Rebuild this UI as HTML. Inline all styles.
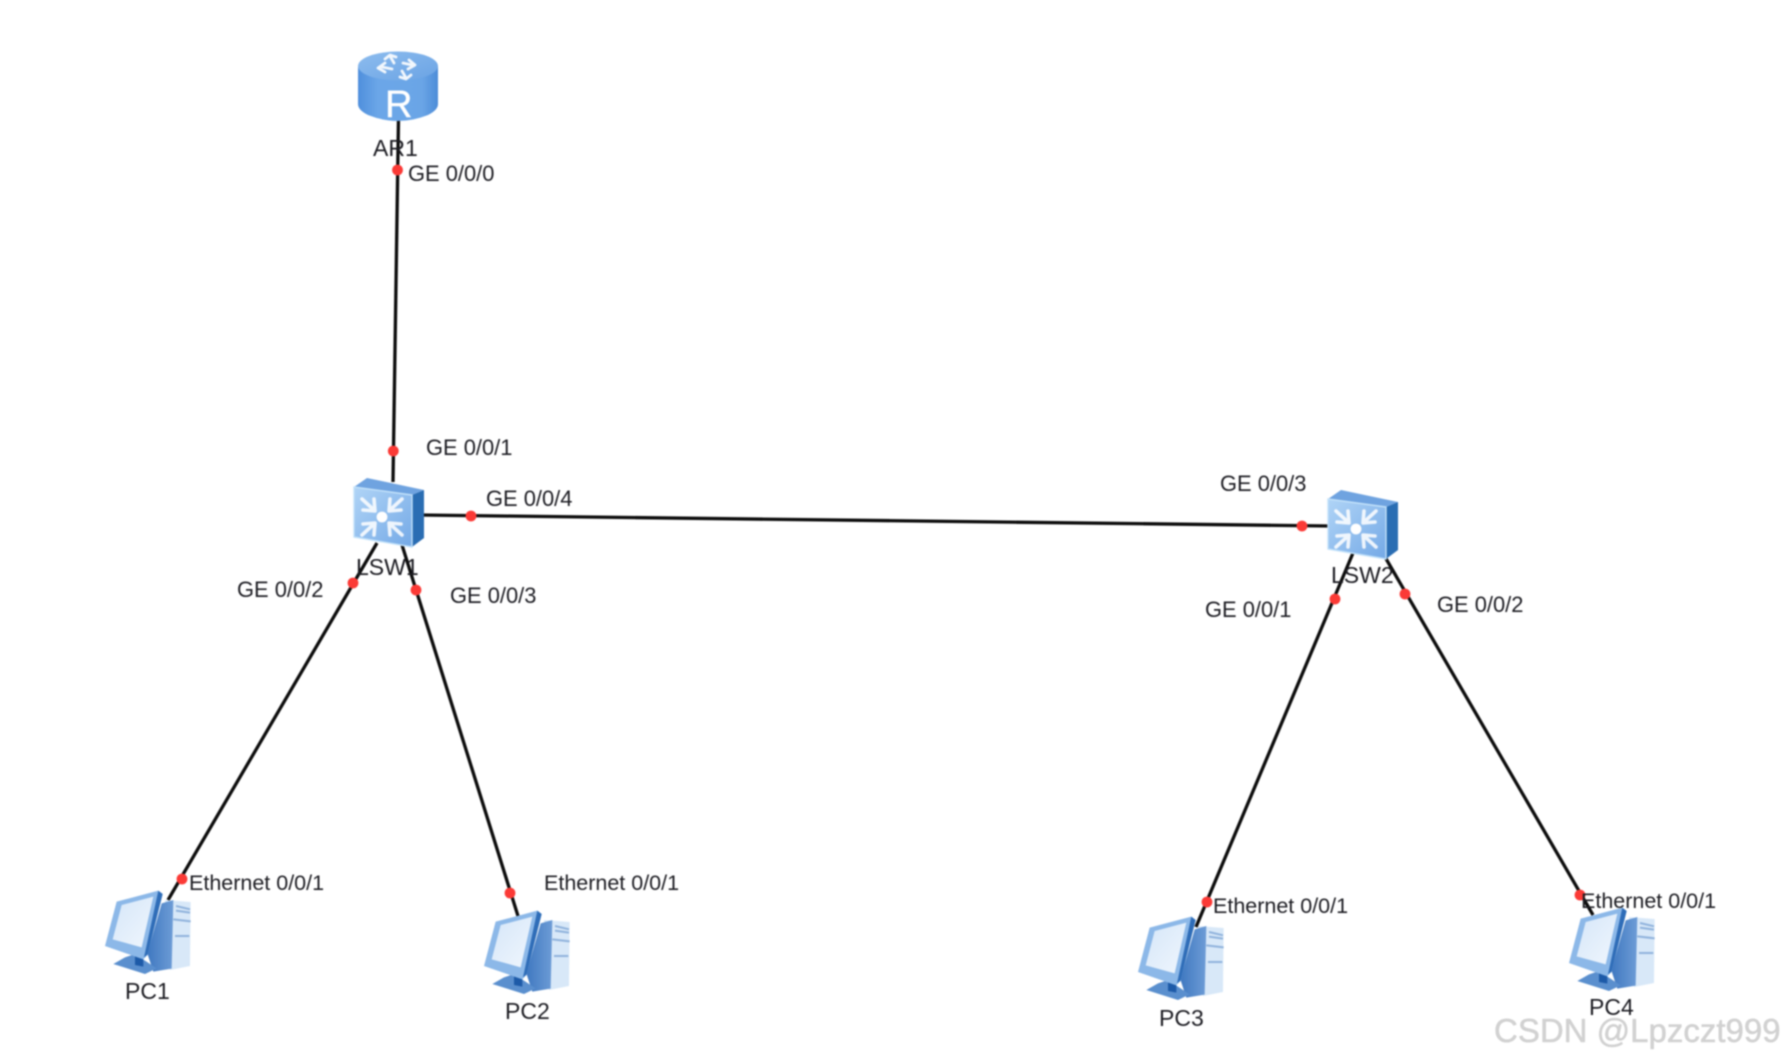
<!DOCTYPE html>
<html>
<head>
<meta charset="utf-8">
<style>
html,body{margin:0;padding:0;background:#fff;width:1783px;height:1061px;overflow:hidden}
svg{display:block;filter:blur(.7px)}
text{font-family:"Liberation Sans",Arial,sans-serif;font-size:21.9px;fill:#1c1c22}
.e{font-size:21.5px}
.d{font-size:23px}
.wm{font-size:33px;fill:#d2d2d2;stroke:#c0c0c0;stroke-width:.3}
</style>
</head>
<body>
<svg xmlns="http://www.w3.org/2000/svg" width="1783" height="1061" viewBox="0 0 1783 1061">
<defs>
<linearGradient id="rb" x1="0" x2="1" y1="0" y2="0"><stop offset="0" stop-color="#4f8fdc"/><stop offset=".25" stop-color="#6ba6e8"/><stop offset=".8" stop-color="#6aa5e6"/><stop offset="1" stop-color="#4c8cd8"/></linearGradient>
<linearGradient id="rt" x1="0" x2="1" y1="0" y2="1"><stop offset="0" stop-color="#8dbcee"/><stop offset="1" stop-color="#6aa3e4"/></linearGradient>
<linearGradient id="sf" x1="0" x2="1" y1="0" y2="1"><stop offset="0" stop-color="#b0d4f6"/><stop offset="1" stop-color="#74a9e6"/></linearGradient>
<linearGradient id="scr" x1="0" x2="1" y1="0" y2="1"><stop offset="0" stop-color="#d5e6f8"/><stop offset="1" stop-color="#f0f6fd"/></linearGradient>
<linearGradient id="tw" x1="0" x2="1" y1="0" y2="0"><stop offset="0" stop-color="#3f78c0"/><stop offset="1" stop-color="#6d9cd6"/></linearGradient>
<g id="arrow"><path d="M-20,-18 L-8,-7 M-19,-7 L-7,-6 L-8,-18" fill="none" stroke="#fff" stroke-width="3.6" stroke-linecap="round" stroke-linejoin="round" opacity=".85"/></g>
<g id="sw">
  <polygon points="354,487 367,478 424,490 412,495" fill="#6fa3e0"/>
  <polygon points="412,495 424,490 424,538 412,547" fill="#2a6db3"/>
  <polygon points="354,487 412,495 412,547 354,537" fill="url(#sf)" stroke="#c3e2fa" stroke-width="1.4"/>
  <circle cx="382" cy="517" r="5.4" fill="#fff"/>
  <use href="#arrow" transform="translate(382,517)"/>
  <use href="#arrow" transform="translate(382,517) scale(-1,1)"/>
  <use href="#arrow" transform="translate(382,517) scale(1,-1)"/>
  <use href="#arrow" transform="translate(382,517) scale(-1,-1)"/>
</g>
<g id="pc" transform="translate(90,860) scale(.3333)">
  <polygon points="225,120 302,126 300,318 240,330" fill="#d8e8f8"/>
  <path d="M258,138 L300,148 M258,152 L300,158 M250,178 L302,184 M255,228 L298,228" stroke="#8fb2dc" stroke-width="6" fill="none"/>
  <polygon points="172,280 215,130 250,120 245,326 190,335" fill="url(#tw)"/>
  <polygon points="70,312 105,292 135,282 200,325 165,342" fill="#5a8fce"/>
  <polygon points="135,285 160,285 160,320 135,315" fill="#1d5aa8"/>
  <polygon points="45,258 80,125 205,92 218,102 172,285 160,298" fill="#8cb8e8"/>
  <polygon points="205,92 218,102 172,285 162,292" fill="#2f6db8"/>
  <polygon points="68,238 95,135 190,110 155,262" fill="url(#scr)"/>
</g>
</defs>

<!-- connectors -->
<g stroke="#0c0c0c" stroke-width="3.3" fill="none" stroke-linecap="butt">
  <line x1="398.5" y1="118" x2="393" y2="482"/>
  <line x1="420" y1="515" x2="1330" y2="526"/>
  <line x1="377" y1="543" x2="168" y2="900"/>
  <line x1="402" y1="545" x2="518" y2="916"/>
  <line x1="1353" y1="553" x2="1196" y2="927"/>
  <line x1="1385" y1="557" x2="1593" y2="915"/>
</g>

<!-- router -->
<path d="M358,66 V104 Q358,110 368,115 Q398,127 428,115 Q438,110 438,104 V66 Z" fill="url(#rb)"/>
<ellipse cx="398" cy="66" rx="40" ry="14.5" fill="url(#rt)"/>
<g fill="none" stroke="#fff" stroke-width="2.8" stroke-linecap="round" stroke-linejoin="round" opacity=".9">
  <path d="M394,63 L390,56 M385,59 L390,55 L396,57"/>
  <path d="M402,71 L406,78 M411,75 L406,79 L400,77"/>
  <path d="M403,63 L412,65 M409,60 L415,65 L408,69"/>
  <path d="M392,69 L382,67 M385,72 L378,68 L385,63"/>
</g>
<text x="385" y="117" style="font-size:38px;fill:#fff;stroke:#fff;stroke-width:.4">R</text>

<!-- switches -->
<use href="#sw"/>
<use href="#sw" transform="translate(974,12)"/>

<!-- PCs -->
<use href="#pc"/>
<use href="#pc" transform="translate(379,20)"/>
<use href="#pc" transform="translate(1033,26)"/>
<use href="#pc" transform="translate(1464,17)"/>

<!-- port dots -->
<g fill="#fb3a36">
  <circle cx="397.5" cy="170" r="5.4"/>
  <circle cx="393.3" cy="451" r="5.4"/>
  <circle cx="471" cy="516" r="5.4"/>
  <circle cx="1302" cy="526" r="5.4"/>
  <circle cx="353" cy="583" r="5.4"/>
  <circle cx="416" cy="590" r="5.4"/>
  <circle cx="182" cy="879" r="5.4"/>
  <circle cx="510" cy="893" r="5.4"/>
  <circle cx="1335" cy="599" r="5.4"/>
  <circle cx="1405" cy="594" r="5.4"/>
  <circle cx="1207" cy="902" r="5.4"/>
  <circle cx="1580" cy="895" r="5.4"/>
</g>

<!-- labels -->
<text x="373" y="156" class="d">AR1</text>
<text x="408" y="181">GE 0/0/0</text>
<text x="426" y="455">GE 0/0/1</text>
<text x="486" y="506">GE 0/0/4</text>
<text x="356" y="575" class="d">LSW1</text>
<text x="237" y="597">GE 0/0/2</text>
<text x="450" y="603">GE 0/0/3</text>
<text x="1220" y="491">GE 0/0/3</text>
<text x="1331" y="583" class="d">LSW2</text>
<text x="1205" y="617">GE 0/0/1</text>
<text x="1437" y="612">GE 0/0/2</text>
<text x="189" y="890" class="e">Ethernet 0/0/1</text>
<text x="125" y="999" class="d">PC1</text>
<text x="544" y="890" class="e">Ethernet 0/0/1</text>
<text x="505" y="1019" class="d">PC2</text>
<text x="1213" y="913" class="e">Ethernet 0/0/1</text>
<text x="1159" y="1026" class="d">PC3</text>
<text x="1581" y="908" class="e">Ethernet 0/0/1</text>
<text x="1589" y="1015" class="d">PC4</text>
<text x="1494" y="1042" class="wm">CSDN @Lpzczt999</text>
</svg>
</body>
</html>
